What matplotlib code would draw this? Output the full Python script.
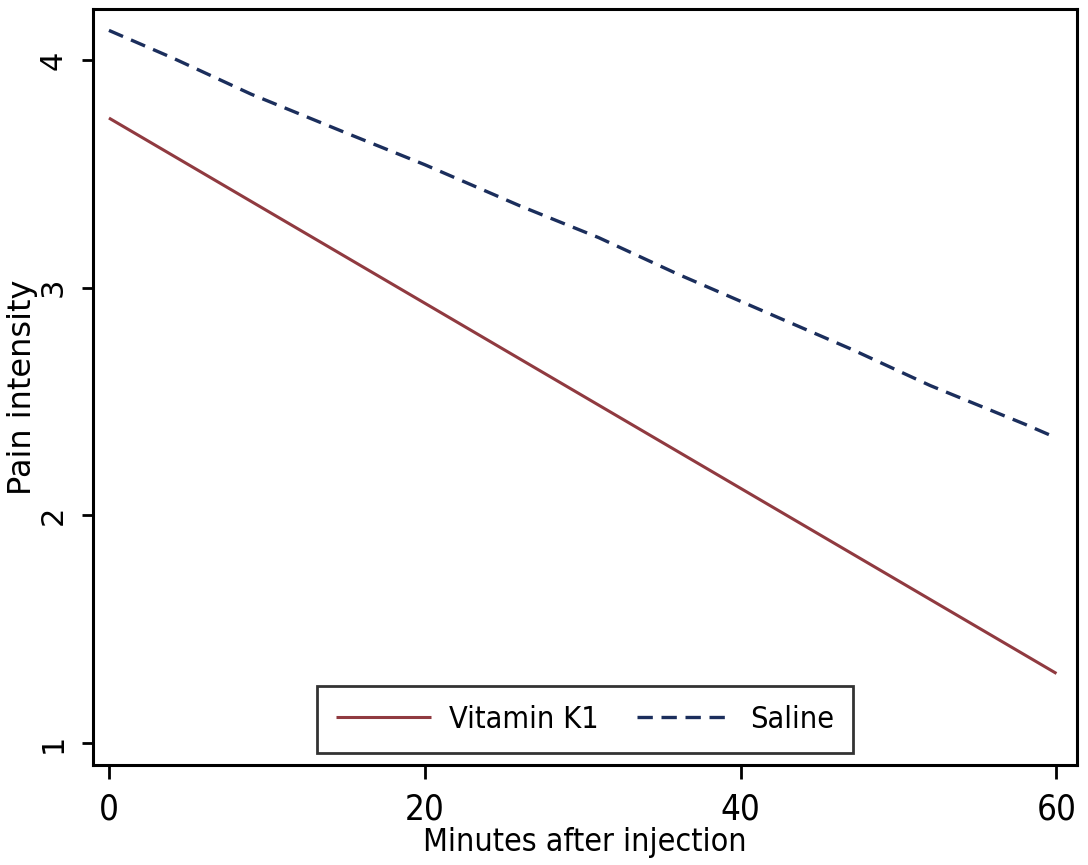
import matplotlib
matplotlib.use("Agg")
import matplotlib.pyplot as plt
from matplotlib import font_manager

# ---- data ----
vitk_x = [0, 60]
vitk_y = [3.745, 1.305]
saline_x = [0, 4, 9, 15, 20, 26, 31, 36, 42, 47, 52, 58, 60]
saline_y = [4.13, 4.01, 3.85, 3.68, 3.54, 3.36, 3.22, 3.06, 2.88, 2.73, 2.57, 2.40, 2.34]
x_ticks = [0, 20, 40, 60]
y_ticks = [1, 2, 3, 4]
series_labels = ["Vitamin K1", "Saline"]
x_label = "Minutes after injection"
y_label = "Pain intensity"

names = {f.name for f in font_manager.fontManager.ttflist}
narrow = 'Liberation Sans Narrow' if 'Liberation Sans Narrow' in names else 'DejaVu Sans'
narrow_kw = dict(family=[narrow, 'DejaVu Sans'])
if narrow == 'DejaVu Sans':
    narrow_kw['stretch'] = 'condensed'

W, H = 1088, 865
fig = plt.figure(figsize=(W / 100, H / 100), dpi=100)
L, R, T, B = 93, 1077, 9, 765
ax = fig.add_axes([L / W, 1 - B / H, (R - L) / W, (B - T) / H])

ax.plot(vitk_x, vitk_y, color='#903A40', lw=2.2, solid_capstyle='butt',
        label=series_labels[0])
ax.plot(saline_x, saline_y, color='#1B2E5C', lw=2.4, dashes=(4.6, 2.6),
        label=series_labels[1])

ax.set_xlim(-1.01, 61.3)
ax.set_ylim(0.903, 4.224)
ax.set_xticks(x_ticks)
ax.set_yticks(y_ticks)

for s in ax.spines.values():
    s.set_linewidth(2.2)
    s.set_color('black')

ax.tick_params(axis='both', direction='out', width=2.0, color='black')
ax.tick_params(axis='x', length=10, pad=10)
ax.tick_params(axis='y', length=8, pad=10)

for lab in ax.get_xticklabels():
    lab.set_fontsize(25)
    lab.set_fontfamily(narrow_kw['family'])
    if 'stretch' in narrow_kw:
        lab.set_fontstretch('condensed')
for lab in ax.get_yticklabels():
    lab.set_fontsize(22)
    lab.set_fontfamily(['DejaVu Sans'])
    lab.set_rotation(90)
    lab.set_va('center')

ax.set_xlabel(x_label, fontsize=23, labelpad=0, **narrow_kw)
ax.set_ylabel(y_label, fontsize=23, family=['DejaVu Sans'])
ax.yaxis.set_label_coords(-0.056, 0.5)

leg = ax.legend(loc='lower center', bbox_to_anchor=(0.5, 12 / (B - T)),
                ncol=2, frameon=True, fancybox=False, borderaxespad=0,
                handlelength=3.1, handletextpad=0.6, columnspacing=1.25,
                borderpad=0.62,
                prop=font_manager.FontProperties(family=narrow_kw['family'], size=22,
                                                 stretch=narrow_kw.get('stretch', 'normal')))
leg.get_frame().set_edgecolor('black')
leg.get_frame().set_linewidth(2.0)

fig.savefig('out.png', dpi=100, facecolor='white')
